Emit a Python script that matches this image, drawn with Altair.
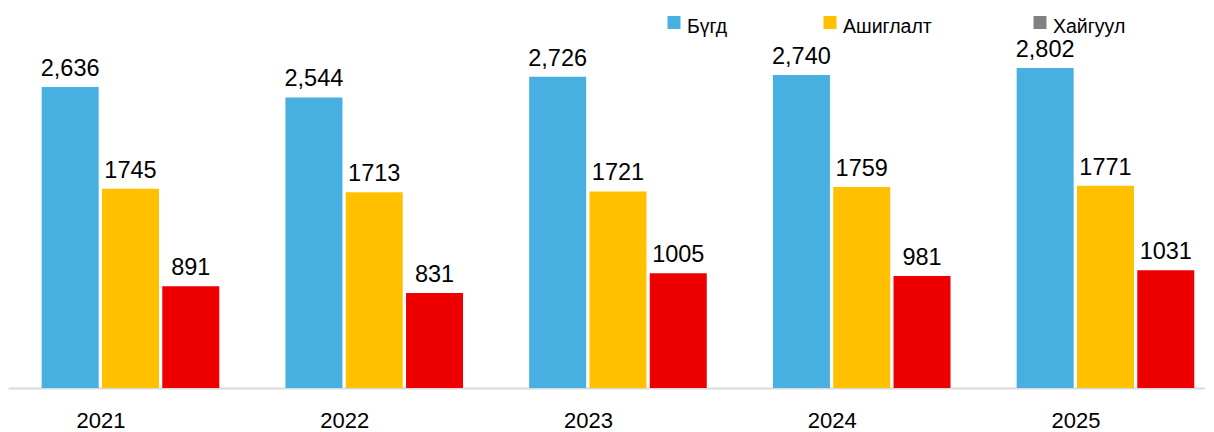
import altair as alt
import pandas as pd

years = ["2021", "2022", "2023", "2024", "2025"]
series = ["Бүгд", "Ашиглалт", "Хайгуул"]
total = [2636, 2544, 2726, 2740, 2802]
exploit = [1745, 1713, 1721, 1759, 1771]
explore = [891, 831, 1005, 981, 1031]

bar_colors = ["#48B0E0", "#FFC000", "#EE0000"]
legend_colors = ["#48B0E0", "#FFC000", "#808080"]
legend_x = [666, 822, 1032]

rows = []
for i, y in enumerate(years):
    for j, (s, vals) in enumerate(zip(series, [total, exploit, explore])):
        v = vals[i]
        lab = f"{v:,}" if s == "Бүгд" else str(v)
        rows.append({"yi": i, "si": j, "year": y, "series": s, "value": v, "label": lab})
df = pd.DataFrame(rows)

leg = pd.DataFrame({"series": series, "col": legend_colors, "lx": legend_x})

FONT = "Liberation Sans"
W = 1197
GROUP_STEP = 243.75   # px per year group
BAR_STEP = 60.3       # px between bars in a group
BAR_W = 57

x0 = -(0.6 + GROUP_STEP / 2) / GROUP_STEP
x1 = x0 + W / GROUP_STEP
label_expr = "[" + ",".join(f"'{y}'" for y in years) + "][datum.value]"

x_enc = alt.X(
    "pos:Q",
    scale=alt.Scale(domain=[x0, x1], nice=False, zero=False, padding=0),
    axis=alt.Axis(
        title=None, ticks=False, labelOffset=-30, labelPadding=22,
        values=list(range(len(years))), labelExpr=label_expr,
        labelFontSize=22, labelFont=FONT, labelColor="black",
        domainColor="#D9D9D9", domainWidth=2, grid=False, labelAngle=0,
        labelFlush=False, labelOverlap=False,
    ),
)
y_enc = alt.Y("value:Q", scale=alt.Scale(domain=[0, 3327], nice=False), axis=None)

base = alt.Chart(df).transform_calculate(
    pos=f"datum.yi + (datum.si - 1) * {BAR_STEP / GROUP_STEP}"
)

bars = base.mark_bar(width=BAR_W).encode(
    x=x_enc, y=y_enc,
    color=alt.Color("series:N", sort=series,
                    scale=alt.Scale(domain=series, range=bar_colors), legend=None),
)

texts = base.mark_text(
    baseline="alphabetic", dy=-11, fontSize=23.5, font=FONT, color="black"
).encode(x=x_enc, y=y_enc, text="label:N")

leg_sq = alt.Chart(leg).mark_square(size=169, opacity=1).encode(
    x=alt.X("lx:Q", scale=None),
    y=alt.value(14.5),
    color=alt.Color("col:N", scale=None),
)
leg_tx = alt.Chart(leg).mark_text(
    align="left", baseline="middle", fontSize=19.5, font=FONT, color="black", dx=13
).encode(
    x=alt.X("lx:Q", scale=None),
    y=alt.value(18.5),
    text="series:N",
)

chart = alt.layer(bars, texts, leg_sq, leg_tx).properties(
    width=W, height=380,
    padding={"left": 0, "top": 0, "right": 0, "bottom": 0},
).configure_view(stroke=None)

chart.save("out.html", embed_options={"renderer": "svg", "actions": False})
